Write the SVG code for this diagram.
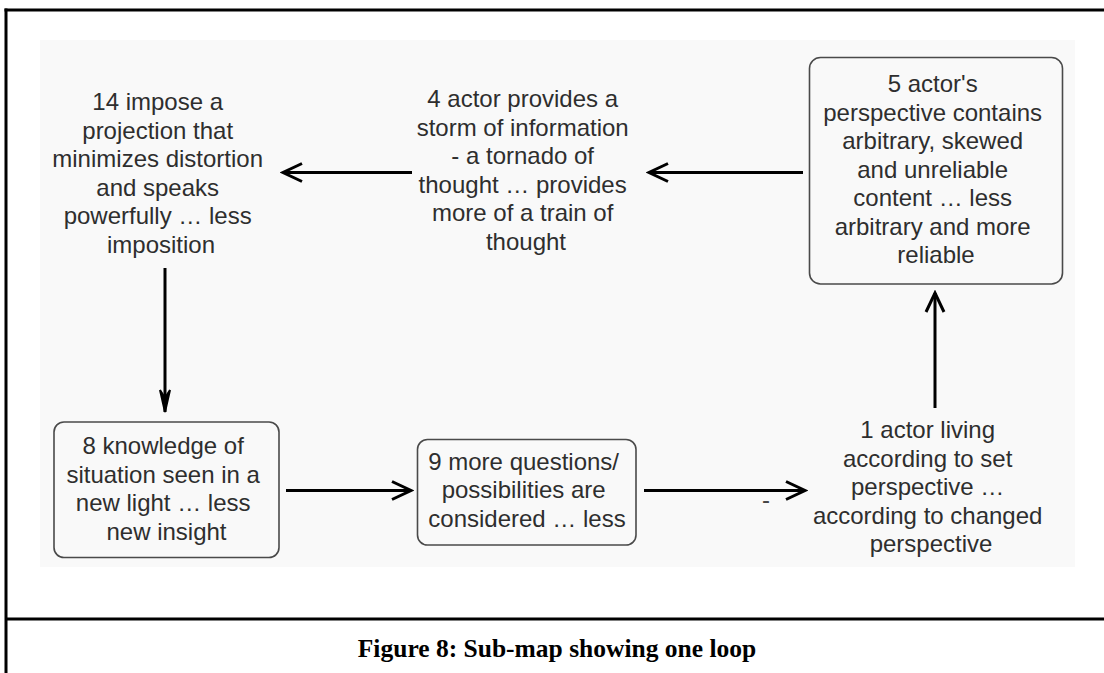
<svg xmlns="http://www.w3.org/2000/svg" width="1104" height="673" viewBox="0 0 1104 673">
  <style>
    .frame { stroke: #000; stroke-width: 3; fill: none; }
    .box { fill: none; stroke: #4a4a4a; stroke-width: 1.6; }
    .label { font-family: "Liberation Sans", Arial, sans-serif; font-size: 24px; fill: #2e2e2e; text-anchor: middle; }
    .link { stroke: #000; stroke-width: 3; fill: none; }
    .caption { font-family: "Liberation Serif", "Times New Roman", serif; font-size: 25.5px; font-weight: bold; fill: #000; text-anchor: middle; }
  </style>
  <defs>
    <marker id="open" viewBox="-22 -12 25 24" markerWidth="25" markerHeight="24" refX="0" refY="0" orient="auto" markerUnits="userSpaceOnUse">
      <path d="M-19,-9 L0,0 L-19,9" fill="none" stroke="#000" stroke-width="3"/>
    </marker>
    <marker id="narrow" viewBox="-25 -8 28 16" markerWidth="28" markerHeight="16" refX="0" refY="0" orient="auto" markerUnits="userSpaceOnUse">
      <path d="M-22,-5 L0,0 L-22,5 L-14,0 Z" fill="#000" stroke="#000" stroke-width="2"/>
    </marker>
  </defs>

  <rect width="1104" height="673" fill="#fff"/>
  <rect x="40" y="40" width="1035" height="527" fill="#f9f9f9"/>

  <!-- page frame -->
  <g id="frame">
    <line class="frame" x1="4.5" y1="10" x2="1104" y2="10"/>
    <line class="frame" x1="6" y1="8.5" x2="6" y2="673"/>
    <line class="frame" x1="6" y1="619" x2="1104" y2="619"/>
  </g>

  <!-- connectors -->
  <g id="connectors">
    <line class="link" x1="803" y1="172.5" x2="649" y2="172.5" marker-end="url(#open)"/>
    <line class="link" x1="412" y1="172.5" x2="283" y2="172.5" marker-end="url(#open)"/>
    <line class="link" x1="165" y1="268" x2="165" y2="412" marker-end="url(#narrow)"/>
    <line class="link" x1="286" y1="490.5" x2="411" y2="490.5" marker-end="url(#open)"/>
    <line class="link" x1="644" y1="490.5" x2="805" y2="490.5" marker-end="url(#open)"/>
    <text x="766" y="508" font-family="Liberation Sans, Arial, sans-serif" font-size="24" fill="#444" text-anchor="middle">-</text>
    <line class="link" x1="935" y1="408" x2="935" y2="293" marker-end="url(#open)"/>
  </g>

  <g id="node14">
    <text class="label" x="161" y="110">
      <tspan x="161">14 impose a</tspan>
      <tspan x="161" dy="28.6">projection that</tspan>
      <tspan x="161" dy="28.6">minimizes distortion</tspan>
      <tspan x="161" dy="28.6">and speaks</tspan>
      <tspan x="161" dy="28.6">powerfully … less</tspan>
      <tspan x="161" dy="28.6">imposition</tspan>
    </text>
  </g>

  <g id="node4">
    <text class="label" x="526" y="107">
      <tspan x="526">4 actor provides a</tspan>
      <tspan x="526" dy="28.6">storm of information</tspan>
      <tspan x="526" dy="28.6">- a tornado of</tspan>
      <tspan x="526" dy="28.6">thought … provides</tspan>
      <tspan x="526" dy="28.6">more of a train of</tspan>
      <tspan x="526" dy="28.6">thought</tspan>
    </text>
  </g>

  <g id="node5">
    <rect class="box" x="809.5" y="57.5" width="253" height="226.5" rx="11"/>
    <text class="label" x="936" y="92">
      <tspan x="936">5 actor's</tspan>
      <tspan x="936" dy="28.5">perspective contains</tspan>
      <tspan x="936" dy="28.5">arbitrary, skewed</tspan>
      <tspan x="936" dy="28.5">and unreliable</tspan>
      <tspan x="936" dy="28.5">content … less</tspan>
      <tspan x="936" dy="28.5">arbitrary and more</tspan>
      <tspan x="936" dy="28.5">reliable</tspan>
    </text>
  </g>

  <g id="node8">
    <rect class="box" x="54" y="422" width="225" height="135.5" rx="10"/>
    <text class="label" x="166.5" y="454">
      <tspan x="166.5">8 knowledge of</tspan>
      <tspan x="166.5" dy="28.5">situation seen in a</tspan>
      <tspan x="166.5" dy="28.5">new light … less</tspan>
      <tspan x="166.5" dy="28.5">new insight</tspan>
    </text>
  </g>

  <g id="node9">
    <rect class="box" x="417.5" y="439.5" width="218.5" height="105.5" rx="10"/>
    <text class="label" x="527" y="469.5">
      <tspan x="527">9 more questions/</tspan>
      <tspan x="527" dy="28.5">possibilities are</tspan>
      <tspan x="527" dy="28.5">considered … less</tspan>
    </text>
  </g>

  <g id="node1">
    <text class="label" x="931" y="438">
      <tspan x="931">1 actor living</tspan>
      <tspan x="931" dy="28.5">according to set</tspan>
      <tspan x="931" dy="28.5">perspective …</tspan>
      <tspan x="931" dy="28.5">according to changed</tspan>
      <tspan x="931" dy="28.5">perspective</tspan>
    </text>
  </g>

  <g id="caption">
    <text class="caption" x="557" y="657">Figure 8: Sub-map showing one loop</text>
  </g>
</svg>
